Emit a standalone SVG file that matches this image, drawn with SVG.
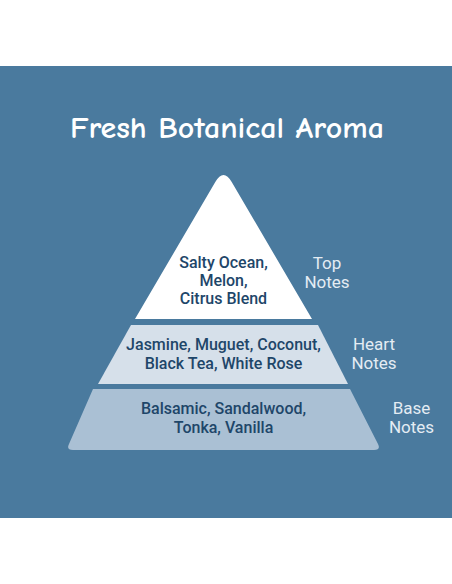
<svg xmlns="http://www.w3.org/2000/svg" width="452" height="584" viewBox="0 0 452 584">
<style>
.in{font-family:Roboto,"Liberation Sans",sans-serif;font-weight:500;font-size:16px;fill:#1e4669;text-anchor:middle}
.lb{font-family:Roboto,"Liberation Sans",sans-serif;font-weight:400;font-size:17px;fill:#e4ecf3;text-anchor:middle}
.tt{font-family:"Comic Neue","DejaVu Sans","Liberation Sans",sans-serif;font-weight:700;font-size:31px;fill:#ffffff;text-anchor:middle}
</style>
<rect x="0" y="0" width="452" height="584" fill="#ffffff"/>
<rect x="0" y="66" width="452" height="452" fill="#4a7a9e"/>
<text class="tt" x="227" y="138" textLength="314" lengthAdjust="spacingAndGlyphs">Fresh Botanical Aroma</text>
<g id="base">
<path d="M93,389 L350,389 L378,444 Q381,450 374,450 L73,450 Q66,450 69,444 Z" fill="#aac0d4"/>
<text class="in" x="223.5" y="414">Balsamic, Sandalwood,</text>
<text class="in" x="223.5" y="432.5">Tonka, Vanilla</text>
</g>
<g id="heart">
<path d="M131,325 L318,325 L348,384 L98,384 Z" fill="#d6e0ea"/>
<text class="in" x="223.5" y="350">Jasmine, Muguet, Coconut,</text>
<text class="in" x="223.5" y="368.5">Black Tea, White Rose</text>
</g>
<g id="top">
<path d="M135,319 L215.3,182 Q223.5,168 231.7,182 L312,319 Z" fill="#ffffff"/>
<text class="in" x="223.5" y="268">Salty Ocean,</text>
<text class="in" x="223.5" y="286">Melon,</text>
<text class="in" x="223.5" y="304">Citrus Blend</text>
</g>
<g id="labels">
<text class="lb" x="327" y="269">Top</text>
<text class="lb" x="327" y="288">Notes</text>
<text class="lb" x="374" y="350">Heart</text>
<text class="lb" x="374" y="369">Notes</text>
<text class="lb" x="411.5" y="414">Base</text>
<text class="lb" x="411.5" y="433">Notes</text>
</g>
<g id="connectors"/>
</svg>
